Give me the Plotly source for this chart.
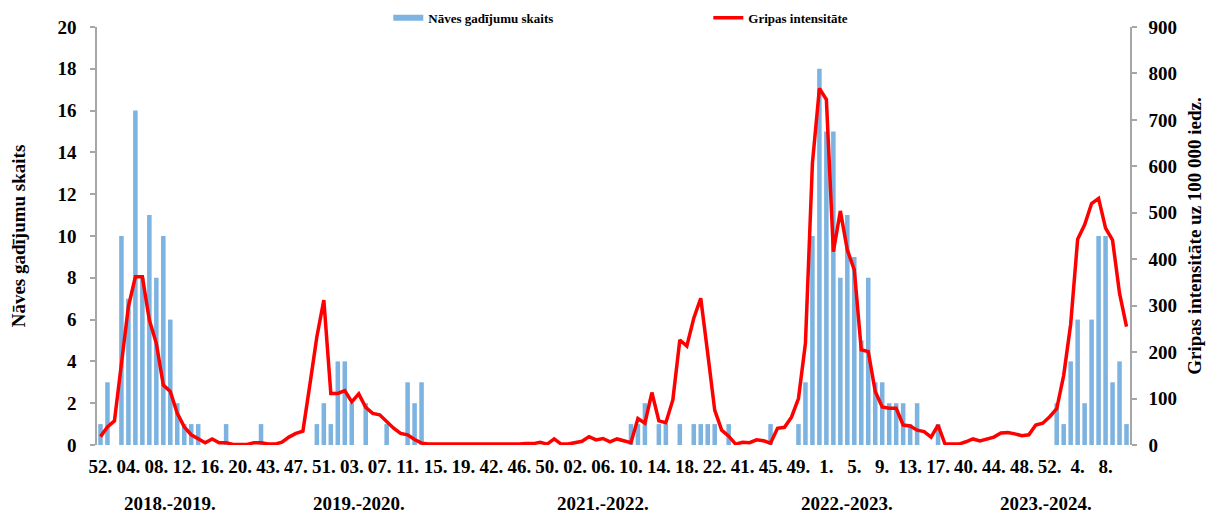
import plotly.graph_objects as go

# ---------------- data ----------------
seasons = ["2018.-2019.", "2019.-2020.", "2021.-2022.", "2022.-2023.", "2023.-2024."]

weeks_2018_2019 = ["52.", "01.", "02.", "03.", "04.", "05.", "06.", "07.", "08.", "09.", "10.",
                   "11.", "12.", "13.", "14.", "15.", "16.", "17.", "18.", "19.", "20."]
weeks_2019_2020 = ["40.", "41.", "42.", "43.", "44.", "45.", "46.", "47.", "48.", "49.", "50.",
                   "51.", "52.", "01.", "02.", "03.", "04.", "05.", "06.", "07.", "08.", "09.",
                   "10.", "11.", "12.", "13.", "14.", "15.", "16.", "17.", "18.", "19.", "20."]
weeks_2021_2022 = ["40.", "41.", "42.", "43.", "44.", "45.", "46.", "47.", "48.", "49.", "50.",
                   "51.", "52.", "01.", "02.", "03.", "04.", "05.", "06.", "07.", "08.", "09.",
                   "10.", "11.", "12.", "13.", "14.", "15.", "16.", "17.", "18.", "19.", "20.",
                   "21.", "22.", "23.", "24."]
weeks_2022_2023 = ["40.", "41.", "42.", "43.", "44.", "45.", "46.", "47.", "48.", "49.", "50.",
                   "51.", "52.", "1.", "2.", "3.", "4.", "5.", "6.", "7.", "8.", "9.",
                   "10.", "11.", "12.", "13.", "14.", "15.", "16.", "17.", "18.", "19.", "20."]
weeks_2023_2024 = ["40.", "41.", "42.", "43.", "44.", "45.", "46.", "47.", "48.", "49.", "50.",
                   "51.", "52.", "1.", "2.", "3.", "4.", "5.", "6.", "7.", "8.", "9.",
                   "10.", "11."]

deaths_2018_2019 = [1, 3, 0, 10, 7, 16, 8, 11, 8, 10, 6, 2, 1, 1, 1, 0, 0, 0, 1, 0, 0]
deaths_2019_2020 = [0, 0, 1, 0, 0, 0, 0, 0, 0, 0, 1, 2, 1, 4, 4, 2, 0, 2, 0, 0, 1, 0,
                    0, 3, 2, 3, 0, 0, 0, 0, 0, 0, 0]
deaths_2021_2022 = [0, 0, 0, 0, 0, 0, 0, 0, 0, 0, 0, 0, 0, 0, 0, 0, 0, 0, 0, 0, 0, 0,
                    1, 1, 2, 0, 1, 1, 0, 1, 0, 1, 1, 1, 1, 0, 1]
deaths_2022_2023 = [0, 0, 0, 0, 0, 1, 0, 0, 0, 1, 3, 10, 18, 15, 15, 8, 11, 9, 5, 8, 3, 3,
                    2, 2, 2, 1, 2, 0, 0, 1, 0, 0, 0]
deaths_2023_2024 = [0, 0, 0, 0, 0, 0, 0, 0, 0, 0, 0, 0, 0, 2, 1, 4, 6, 2, 6, 10, 10, 3,
                    4, 1]

flu_2018_2019 = [18, 39, 52, 180, 298, 362, 362, 269, 219, 129, 115, 68, 39, 22, 14, 5, 13,
                 5, 5, 1, 1]
flu_2019_2020 = [1, 5, 5, 2, 2, 6, 17, 25, 30, 130, 233, 312, 111, 111, 117, 93, 110, 81,
                 68, 65, 50, 36, 25, 22, 12, 4, 2, 2, 2, 2, 2, 2, 2]
flu_2021_2022 = [1, 1, 1, 1, 1, 1, 2, 3, 3, 6, 2, 13, 2, 2, 5, 8, 18, 11, 14, 7, 13, 9, 5,
                 57, 47, 113, 52, 48, 97, 226, 213, 273, 316, 197, 75, 32, 19]
flu_2022_2023 = [2, 6, 5, 11, 9, 4, 36, 38, 60, 100, 219, 607, 768, 744, 416, 504, 420, 377,
                 205, 201, 115, 82, 79, 79, 43, 41, 32, 29, 17, 43, 2, 2, 2]
flu_2023_2024 = [7, 13, 9, 13, 17, 26, 27, 24, 20, 22, 43, 47, 61, 78, 150, 260, 443, 474,
                 520, 531, 467, 441, 327, 255]

week_groups = [weeks_2018_2019, weeks_2019_2020, weeks_2021_2022, weeks_2022_2023, weeks_2023_2024]
death_groups = [deaths_2018_2019, deaths_2019_2020, deaths_2021_2022, deaths_2022_2023, deaths_2023_2024]
flu_groups = [flu_2018_2019, flu_2019_2020, flu_2021_2022, flu_2022_2023, flu_2023_2024]

weeks = [w for g in week_groups for w in g]
deaths = [v for g in death_groups for v in g]
flu = [v for g in flu_groups for v in g]
x = list(range(len(weeks)))

tick_step = 4
tickvals = x[::tick_step]
ticktext = weeks[::tick_step]

# ---------------- style ----------------
FONT = "Liberation Serif"
BLUE = "#7DB3E0"
RED = "#FF0000"
AXIS = "#A6A6A6"

fig = go.Figure()
fig.add_trace(go.Bar(x=x, y=deaths, marker=dict(color=BLUE, line=dict(width=0)),
                     name="Nāves gadījumu skaits", showlegend=False, yaxis="y"))
fig.add_trace(go.Scatter(x=[None], y=[None], mode="lines", name="Nāves gadījumu skaits",
                         line=dict(color=BLUE, width=6), yaxis="y"))
fig.add_trace(go.Scatter(x=x, y=flu, mode="lines", name="Gripas intensitāte",
                         line=dict(color=RED, width=3.5), yaxis="y2"))

# season group labels
start = 0
for name, g in zip(seasons, week_groups):
    center = start + (len(g) - 1) / 2
    fig.add_annotation(x=center, xref="x", y=-0.139, yref="paper", text=name,
                       showarrow=False, yanchor="middle",
                       font=dict(family=FONT, size=19, color="black", weight="bold"))
    start += len(g)

# the page adds an 8 px body margin, so the figure is 8 px smaller than the window
fig.update_layout(
    width=1213, height=508,
    margin=dict(l=89, r=91, t=19, b=71, autoexpand=False),
    plot_bgcolor="white", paper_bgcolor="white",
    bargap=0.35,
    font=dict(family=FONT, color="black"),
    legend=dict(orientation="h", x=0.282, xanchor="left",
                yref="paper", y=1.022, yanchor="middle",
                font=dict(family=FONT, size=13, color="black", weight="bold"),
                entrywidth=275, entrywidthmode="pixels", bgcolor="rgba(0,0,0,0)"),
    xaxis=dict(range=[-0.5, len(x) - 0.5], tickmode="array", tickvals=tickvals, ticktext=ticktext,
               showline=False, showgrid=False, zeroline=False, ticks="", automargin=False,
               tickangle=0, ticklabelstandoff=8,
               tickfont=dict(family=FONT, size=19, color="black", weight="bold")),
    yaxis=dict(range=[0, 20], dtick=2, showline=True, linecolor=AXIS, linewidth=1.5,
               ticks="outside", ticklen=5, tickcolor=AXIS, tickwidth=1.5, automargin=False,
               showgrid=False, zeroline=False, ticklabelstandoff=10,
               tickfont=dict(family=FONT, size=19, color="black", weight="bold"),
               title=dict(text="Nāves gadījumu skaits", standoff=28,
                          font=dict(family=FONT, size=19, color="black", weight="bold"))),
    yaxis2=dict(range=[0, 900], dtick=100, overlaying="y", side="right",
                showline=True, linecolor=AXIS, linewidth=1.5, automargin=False,
                ticks="outside", ticklen=5, tickcolor=AXIS, tickwidth=1.5,
                showgrid=False, zeroline=False, ticklabelstandoff=8,
                tickfont=dict(family=FONT, size=19, color="black", weight="bold"),
                title=dict(text="Gripas intensitāte uz 100 000 iedz.", standoff=12,
                           font=dict(family=FONT, size=19, color="black", weight="bold"))),
)

fig.write_html("out.html")
